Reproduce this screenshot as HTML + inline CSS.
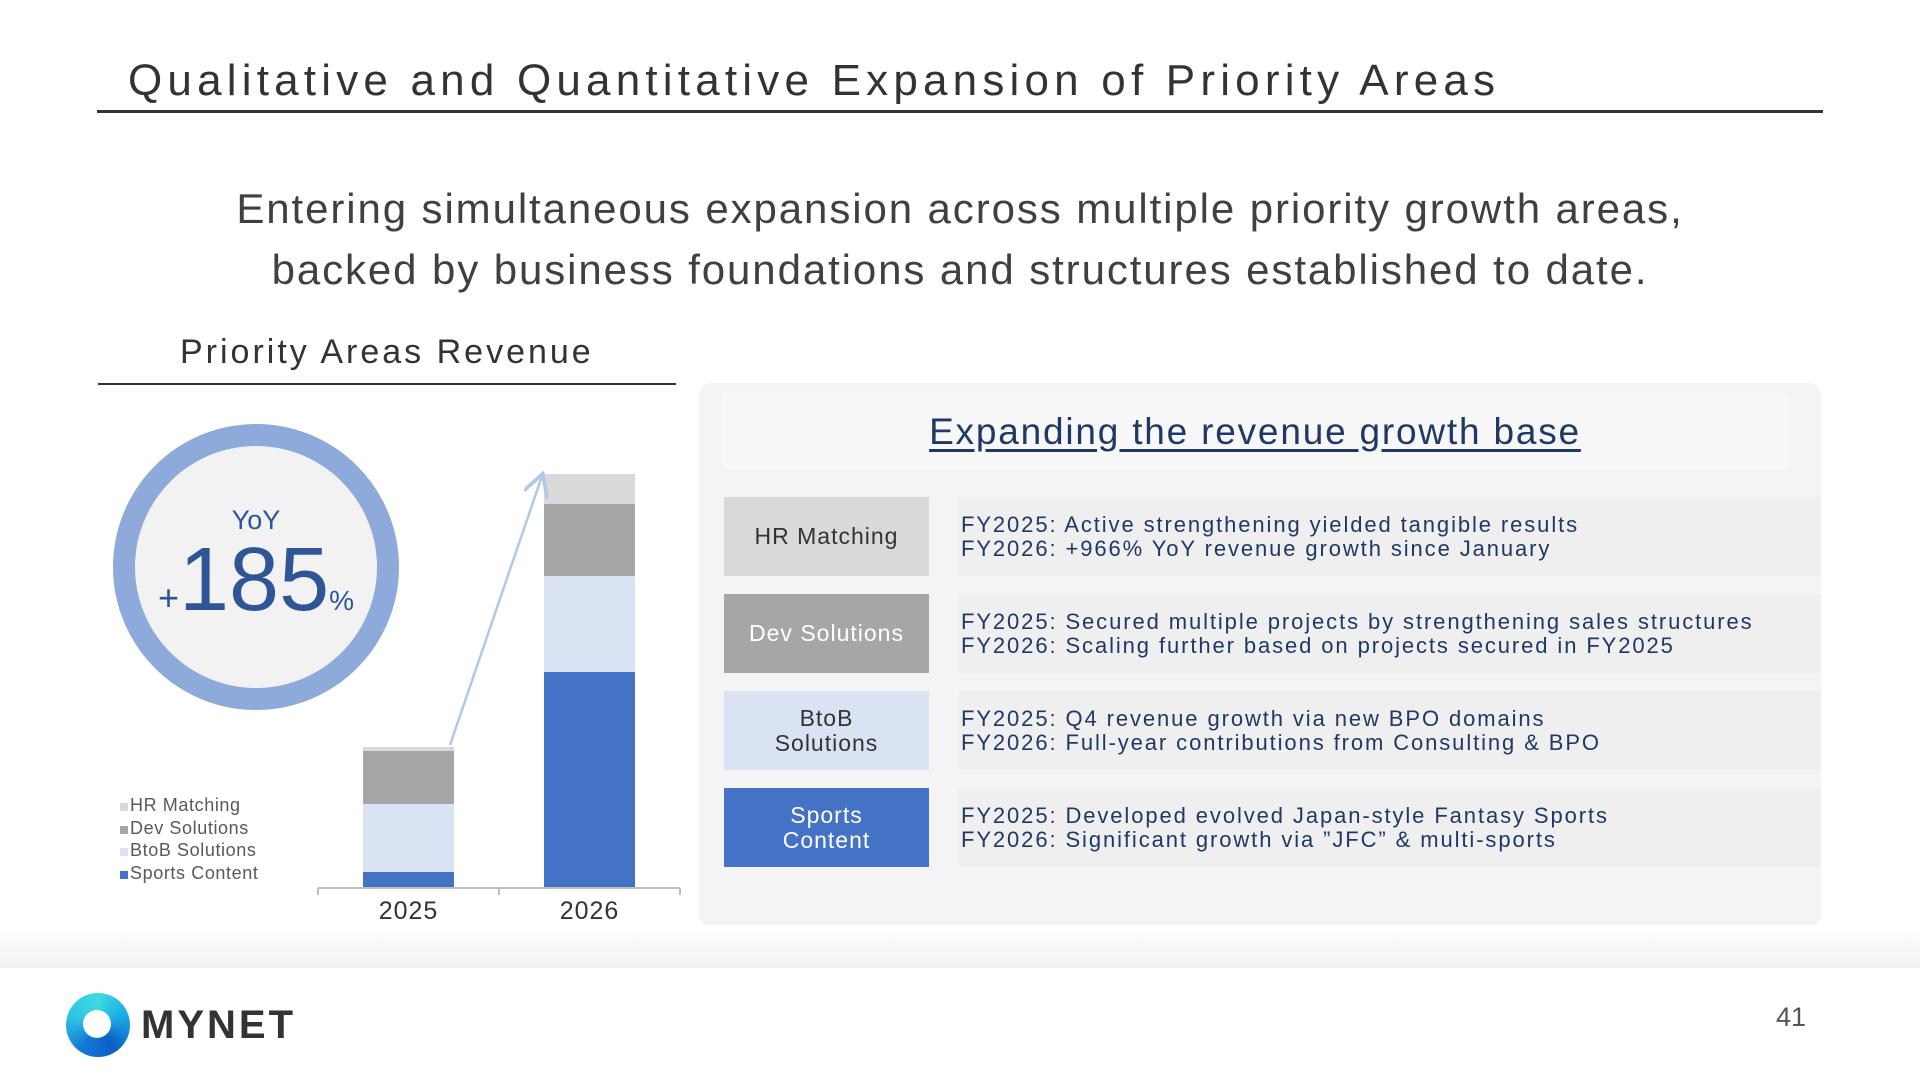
<!DOCTYPE html>
<html><head><meta charset="utf-8"><style>
*{margin:0;padding:0;box-sizing:border-box}
body{width:1920px;height:1080px;background:#fff;font-family:"Liberation Sans","Noto Sans CJK JP",sans-serif;color:#333;position:relative;overflow:hidden}
.abs{position:absolute}
.row-label{position:absolute;left:724px;width:205px;height:79px;display:flex;align-items:center;justify-content:center;text-align:center;font-size:23px;line-height:25px;letter-spacing:1px}
.row-text{position:absolute;left:959px;width:862px;height:79px;background:#efefef;padding-left:2px;display:flex;flex-direction:column;justify-content:center;font-size:22px;line-height:24px;color:#1f3864;letter-spacing:1.9px;white-space:nowrap}
</style></head><body>
<div class="abs" style="left:128px;top:56px;font-size:44px;letter-spacing:5.2px;color:#333;white-space:nowrap">Qualitative and Quantitative Expansion of Priority Areas</div>
<div class="abs" style="left:97px;top:110px;width:1726px;height:3px;background:#333"></div>
<div class="abs" style="left:0;width:1920px;top:178px;text-align:center;font-size:42px;line-height:61px;letter-spacing:1.9px;color:#404040;white-space:nowrap">Entering simultaneous expansion across multiple priority growth areas,<br>backed by business foundations and structures established to date.</div>
<div class="abs" style="left:180px;top:333px;font-size:34px;letter-spacing:3px;color:#333">Priority Areas Revenue</div>
<div class="abs" style="left:98px;top:383px;width:578px;height:2px;background:#333"></div>

<div class="abs" style="left:113px;top:424px;width:286px;height:286px;border-radius:50%;border:22px solid #8eaadb;background:#f2f2f2"></div>
<div class="abs" style="left:113px;width:286px;top:505px;text-align:center;font-size:27px;color:#2f5597">YoY</div>
<div class="abs" style="left:113px;width:286px;top:530px;text-align:center;color:#2f5597;white-space:nowrap"><span style="font-size:36px">+</span><span style="font-size:90px;line-height:100px">185</span><span style="font-size:28px">%</span></div>

<svg class="abs" style="left:0;top:0" width="1920" height="1080">
<g id="bars"></g>
<defs><marker id="ah" markerWidth="10" markerHeight="10" refX="8" refY="5" orient="auto"><path d="M0,0 L9,5 L0,10" fill="none" stroke="#b4c7e7" stroke-width="1.5"/></marker></defs>
<line id="growth-arrow" stroke="#b4c7e7" stroke-width="2.5" marker-end="url(#ah)"/>
<g id="axis"></g>
</svg>

<div class="abs" style="left:120px;top:794px;font-size:18px;line-height:22.5px;letter-spacing:0.6px;color:#595959">
<div><span style="display:inline-block;width:8px;height:8px;background:#d9d9d9;margin-right:2px"></span>HR Matching</div>
<div><span style="display:inline-block;width:8px;height:8px;background:#a6a6a6;margin-right:2px"></span>Dev Solutions</div>
<div><span style="display:inline-block;width:8px;height:8px;background:#dae3f3;margin-right:2px"></span>BtoB Solutions</div>
<div><span style="display:inline-block;width:8px;height:8px;background:#4472c4;margin-right:2px"></span>Sports Content</div>
</div>

<div class="abs" style="left:699px;top:383px;width:1122px;height:544px;background:#f4f4f4;border-radius:12px"></div>
<div class="abs" style="left:722px;top:394px;width:1066px;height:75px;background:#f7f7f7;display:flex;align-items:center;justify-content:center;font-size:37px;letter-spacing:1.8px;color:#1f3864;text-decoration:underline;text-underline-offset:5px">Expanding the revenue growth base</div>

<div class="row-label" style="top:497px;background:#d9d9d9;color:#333">HR Matching</div>
<div class="row-text" style="top:497px"><div>FY2025: Active strengthening yielded tangible results</div><div>FY2026: +966% YoY revenue growth since January</div></div>
<div class="row-label" style="top:594px;background:#a6a6a6;color:#fff">Dev Solutions</div>
<div class="row-text" style="top:594px"><div>FY2025: Secured multiple projects by strengthening sales structures</div><div>FY2026: Scaling further based on projects secured in FY2025</div></div>
<div class="row-label" style="top:691px;background:#dae3f3;color:#333">BtoB<br>Solutions</div>
<div class="row-text" style="top:691px"><div>FY2025: Q4 revenue growth via new BPO domains</div><div>FY2026: Full-year contributions from Consulting &amp; BPO</div></div>
<div class="row-label" style="top:788px;background:#4472c4;color:#fff">Sports<br>Content</div>
<div class="row-text" style="top:788px"><div>FY2025: Developed evolved Japan-style Fantasy Sports</div><div>FY2026: Significant growth via ”JFC” &amp; multi-sports</div></div>

<div class="abs" style="left:0;top:925px;width:1920px;height:43px;background:linear-gradient(#fff,#f2f2f2)"></div>
<div class="abs" style="left:66px;top:993px;width:64px;height:64px;border-radius:50%;background:conic-gradient(#3fd9e0,#1aa9e6,#0a5fc4,#1478d8,#2ec4e4,#3fd9e0)"><div style="position:absolute;left:17px;top:17px;width:28px;height:28px;border-radius:50%;background:#fff"></div></div>
<div class="abs" style="left:141px;top:1003px;font-size:40px;font-weight:bold;letter-spacing:3px;color:#333">MYNET</div>
<div class="abs" style="left:1776px;top:1002px;font-size:27px;color:#555">41</div>

<script>
const categories = ["2025", "2026"];
const seriesNames = ["Sports Content", "BtoB Solutions", "Dev Solutions", "HR Matching"];
const sportsValues = [16, 216];
const btobValues = [68, 96];
const devValues = [53, 72];
const hrValues = [4, 30];

const colors = ["#4472c4", "#dae3f3", "#a6a6a6", "#d9d9d9"];
const NS = "http://www.w3.org/2000/svg";
const baseY = 888, axisL = 318, axisR = 680, barW = 91;
const yMax = 420, plotH = 420;
function yScale(v){ return baseY - v / yMax * plotH; }
function xCenter(i){ const step = (axisR - axisL) / categories.length; return axisL + step * (i + 0.5); }
const series = [sportsValues, btobValues, devValues, hrValues];
const g = document.getElementById("bars");
const tops = [];
categories.forEach((c, i) => {
  let acc = 0;
  series.forEach((s, k) => {
    const r = document.createElementNS(NS, "rect");
    r.setAttribute("x", xCenter(i) - barW / 2);
    r.setAttribute("y", yScale(acc + s[i]));
    r.setAttribute("width", barW);
    r.setAttribute("height", yScale(acc) - yScale(acc + s[i]));
    r.setAttribute("fill", colors[k]);
    
    
    g.appendChild(r);
    acc += s[i];
  });
  tops.push(acc);
});
const ax = document.getElementById("axis");
const al = document.createElementNS(NS, "path");
const step = (axisR - axisL) / categories.length;
let d = "M" + axisL + "," + baseY + " L" + axisR + "," + baseY;
for (let i = 0; i <= categories.length; i++) d += " M" + (axisL + step * i) + "," + baseY + " l0,7";
al.setAttribute("d", d); al.setAttribute("stroke", "#bfbfbf"); al.setAttribute("stroke-width", "2"); al.setAttribute("fill", "none");


ax.appendChild(al);
categories.forEach((c, i) => {
  const t = document.createElementNS(NS, "text");
  t.setAttribute("x", xCenter(i)); t.setAttribute("y", baseY + 31);
  t.setAttribute("text-anchor", "middle"); t.setAttribute("font-size", "25"); t.setAttribute("fill", "#333");
  t.setAttribute("font-family", "Liberation Sans, sans-serif");
  t.setAttribute("letter-spacing", "1");
  t.textContent = c;
  
  
  ax.appendChild(t);
});
const arr = document.getElementById("growth-arrow");
arr.setAttribute("x1", xCenter(0) + barW / 2 - 4); arr.setAttribute("y1", yScale(tops[0]) - 2);
arr.setAttribute("x2", xCenter(1) - barW / 2 - 2); arr.setAttribute("y2", yScale(tops[1]) + 2);
</script>
</body></html>
